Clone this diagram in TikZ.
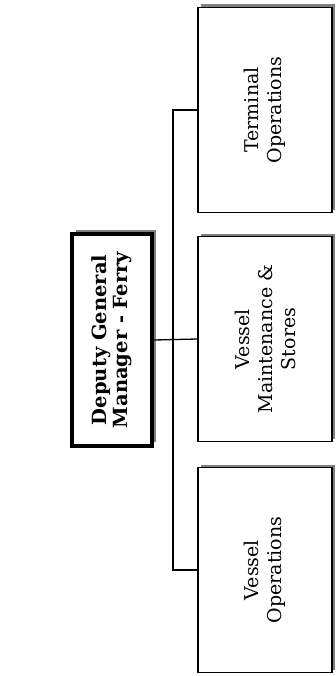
\documentclass[tikz,border=0pt]{standalone}
\usepackage{fontspec}
\setmainfont{DejaVu Serif}
\usetikzlibrary{shadows}
\begin{document}
\begin{tikzpicture}[x=1pt,y=-1pt]
\useasboundingbox (0,0) rectangle (336,676);
\tikzset{
  childbox/.style={draw=black, line width=1.8pt, fill=white, inner sep=0pt,
    minimum width=134pt, minimum height=205pt,
    general shadow={fill=black!50, shadow xshift=3pt, shadow yshift=3pt}},
  headbox/.style={draw=black, line width=4.5pt, fill=white, inner sep=0pt,
    minimum width=80pt, minimum height=212pt,
    general shadow={fill=black!50, shadow xshift=4pt, shadow yshift=4pt}},
  childtext/.style={rotate=90, align=center, font=\fontsize{19}{23}\selectfont},
  headtext/.style={rotate=90, align=center, font=\fontsize{19.5}{21}\selectfont\bfseries},
  conn/.style={draw=black, line width=1.3pt}
}
\node[headbox] (dgm) at (112,340) {};
\node[headtext] (dgmt) at (dgm) {Deputy General\\Manager - Ferry};
\node[childbox] (term) at (265,110) {};
\node[childtext] (termt) at (term) {Terminal\\Operations};
\node[childbox] (maint) at (265,339) {};
\node[childtext] (maintt) at (maint) {Vessel\\Maintenance \&\\Stores};
\node[childbox] (vo) at (265,570) {};
\node[childtext] (vot) at (vo) {Vessel\\Operations};
\draw[conn] (dgm.east) -- (maint.west);
\draw[conn] (term.west) -- ++(-24,0) coordinate (bt) |- (vo.west);
\end{tikzpicture}
\end{document}
